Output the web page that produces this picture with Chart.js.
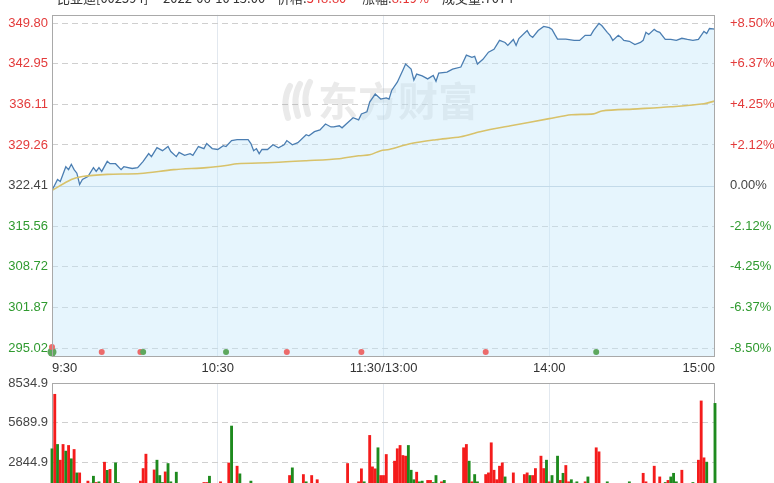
<!DOCTYPE html>
<html><head><meta charset="utf-8">
<script src="https://cdn.jsdelivr.net/npm/chart.js@4"></script>
<style>
html,body{margin:0;padding:0;background:#fff;overflow:hidden;width:774px;height:483px;}
#wrap{position:relative;width:774px;height:483px;overflow:hidden;}
#title{position:absolute;left:0;top:-10px;width:774px;height:16px;font:13px "Noto Sans CJK SC","Liberation Sans",sans-serif;color:#333;white-space:pre;line-height:16px;}
#title span{position:absolute;top:0;}
#title b{font-weight:normal;color:#e53333;}
#pc{position:absolute;left:0;top:0;}
#vc{position:absolute;left:0;top:370px;}
</style></head>
<body><div id="wrap">
<canvas id="pc" width="774" height="380"></canvas>
<canvas id="vc" width="774" height="150"></canvas>
<div id="title"><span style="left:57px">比亚迪[002594]</span><span style="left:163px">2022-06-10 15:00</span><span style="left:277px">价格:<b>348.80</b></span><span style="left:362px">涨幅:<b>8.19%</b></span><span style="left:442px">成交量:7074</span></div>
</div>
<script>
// ---------- data ----------
const basePrice = 322.41;
const priceTicks = [295.02, 301.87, 308.72, 315.56, 322.41, 329.26, 336.11, 342.95, 349.80];
const priceTickLabels = ['295.02','301.87','308.72','315.56','322.41','329.26','336.11','342.95','349.80'];
const pctTickLabels = ['-8.50%','-6.37%','-4.25%','-2.12%','0.00%','+2.12%','+4.25%','+6.37%','+8.50%'];
const timeTicks = [0, 60, 120, 180, 240];
const timeLabels = ['9:30', '10:30', '11:30/13:00', '14:00', '15:00'];

const priceMinutes = [
  0,2,3,5,6,7,8,9,10,11,
  13,15,16,17,18,20,21,23,25,26,
  29,31,33,35,36,38,40,42,43,45,
  46,48,50,51,53,55,56,58,60,62,
  63,65,67,71,72,73,74,75,76,78,
  80,82,84,85,87,89,92,93,95,97,
  99,101,102,104,105,107,109,111,112,114,
  115,117,119,121,122,123,125,127,128,130,
  131,132,134,136,138,139,140,143,145,148,
  150,152,153,154,156,158,160,162,164,165,
  167,168,169,172,173,174,176,178,180,181,
  182,183,186,189,191,193,195,196,198,199,
  201,202,203,205,206,207,209,211,213,214,
  215,216,218,219,220,222,224,226,228,230,
  232,234,236,237,238,240];
const priceValues = [
  321.6,323.45,323.1,325.6,325.1,326.0,325.1,324.5,322.6,323.45,
  323.95,325.45,324.8,325.45,324.8,326.5,326.1,326.1,325.1,325.6,
  325.3,325.45,326.5,327.8,327.3,328.8,328.3,329.0,328.15,327.3,
  328.0,327.5,327.8,327.5,329.0,328.65,329.5,328.65,328.5,329.15,
  329.0,330.0,330.15,330.15,329.5,328.3,328.65,327.8,328.5,328.5,
  329.3,328.8,329.3,330.0,329.3,329.65,331.0,330.8,331.5,331.8,
  332.8,332.3,332.3,332.5,332.15,333.0,333.85,333.5,334.5,334.85,
  336.5,337.85,337.0,337.2,337.0,338.5,339.85,341.85,342.9,342.05,
  340.2,341.2,340.9,340.4,341.0,340.0,341.4,341.55,342.05,342.4,
  344.4,344.05,344.2,342.9,343.7,344.9,345.4,346.9,346.55,346.05,
  347.05,346.05,347.2,348.55,347.75,347.4,348.55,349.25,349.05,348.75,
  347.9,347.1,347.1,346.9,346.9,347.75,347.75,348.55,349.75,349.4,
  348.25,347.75,346.9,347.75,347.4,346.9,346.75,346.2,346.55,346.9,
  348.25,347.9,348.75,348.4,348.25,347.05,347.05,346.9,347.25,347.05,
  346.9,347.05,348.4,348.05,348.9,348.8];

const avgMinutes = [0,7,11,20,32,44,56,63,67,80,92,104,111,115,119,122,130,139,148,155,166,180,188,196,199,212,224,236,240];
const avgValues = [321.6,323.45,323.95,324.3,324.45,325.1,325.45,325.8,326.1,326.3,326.6,326.95,327.45,327.6,328.3,328.5,329.5,330.15,330.65,331.5,332.5,333.7,334.35,334.5,335.0,335.35,335.7,336.2,336.7];

const markerMinutes = [0, 0, 18, 32, 33, 63, 85, 112, 157, 197];
const markerValues = [294.35, 295.2, 294.35, 294.35, 294.35, 294.35, 294.35, 294.35, 294.35, 294.35];
const markerKinds = ['g','r','r','r','g','g','r','r','r','g'];

const volumeTicks = [0, 2844.9, 5689.9, 8534.9];
const volumeTickLabels = ['0', '2844.9', '5689.9', '8534.9'];
const volumes = [
  3816,7726,4128,3000,4128,3650,4056,3100,3768,2088,
  2088,1200,1300,1500,1350,1850,1400,1450,1100,2856,
  2270,2340,1000,2808,1400,900,700,800,600,900,
  700,1000,1500,2400,3432,900,1000,2300,3000,1900,
  1400,2160,2760,1450,900,2140,800,700,900,1300,
  700,900,600,800,700,1400,1400,1850,800,900,
  700,1450,900,1000,2800,5448,1100,2570,2020,900,
  800,1000,1500,800,700,900,600,800,900,700,
  800,600,900,700,800,1100,1900,2450,900,800,
  1000,1970,1450,800,1900,900,1600,800,700,900,
  600,800,1000,700,900,800,1000,2760,900,800,
  700,1450,2380,1450,1200,4776,2520,2380,3890,1900,
  1900,3408,1200,1100,2930,3820,4056,3336,3290,4056,
  2280,1600,2140,1450,1500,900,1550,1550,1400,1900,
  900,1450,1550,800,700,900,1300,800,900,3890,
  4128,2930,1450,1970,1450,900,800,1970,2090,4248,
  2280,1600,2570,2808,1800,900,800,2090,700,900,
  800,1970,2090,1900,1900,2400,1100,3290,2400,3000,
  1450,1900,900,3290,1550,2060,2620,1450,1600,1350,
  1450,800,900,1450,1800,900,700,3890,3600,800,
  700,1450,800,700,900,600,800,700,900,1450,
  800,700,900,800,2060,1450,900,800,2570,900,
  1800,900,1400,1550,1800,2060,1450,900,2280,800,
  700,900,1400,900,3000,7250,3170,2860,1200,1000,7074];
const volumeDirs = [
  'grgrrgrgrg','rrrrggrgrr','grgggrgrgr','grrrrgrrgg','grggrgrgrr',
  'grgrgrrgrg','rrgrrggrgr','grggrgrgrg','rgrgrgrgrg','rrgrrgrgrg',
  'rgrgrgrrgr','grrgrrrrgr','rrgrrrrrrg','ggrggrrrgg','rrgrgrrgrr',
  'rgrggrgrrr','rrrrgrgrgr','grrgrrgrrg','rgrgrgrrgg','grgrgrgrrg',
  'rgrgrgrgrg','rgrgrrgrrg','rggrgggrrg','rggrrrrggrg'].join('');

// ---------- styling ----------
Chart.defaults.font.family = '"Liberation Sans", Arial, sans-serif';
Chart.defaults.font.size = 13;
Chart.defaults.animation = false;

const RED_TXT = '#e33b3b', GREEN_TXT = '#2f9a2f', GRAY_TXT = '#444';
function priceColor(v){ if (Math.abs(v - basePrice) < 0.005) return GRAY_TXT; return v > basePrice ? RED_TXT : GREEN_TXT; }

function drawBox(chart) {
  const {ctx, chartArea: a} = chart;
  ctx.save(); ctx.strokeStyle = '#a9a9a9'; ctx.lineWidth = 1;
  ctx.strokeRect(Math.round(a.left) + 0.5, Math.round(a.top) + 0.5, Math.round(a.right - a.left) - 1, Math.round(a.bottom - a.top));
  ctx.restore();
}

const boxPlugin = {
  id: 'box',
  beforeDatasetsDraw(chart, args, opts) {
    const {ctx, chartArea: a} = chart;
    if (opts.boxFirst) drawBox(chart);
    if (opts.zeroLine) {
      const y = Math.round(chart.scales.y.getPixelForValue(basePrice)) + 0.5;
      ctx.save(); ctx.strokeStyle = '#c3d0dd'; ctx.lineWidth = 1;
      ctx.beginPath(); ctx.moveTo(a.left, y); ctx.lineTo(a.right, y); ctx.stroke(); ctx.restore();
    }
    if (opts.watermark) {
      ctx.save();
      ctx.fillStyle = 'rgba(150,150,150,0.2)';
      ctx.font = 'bold 40px "Noto Sans CJK SC"';
      ctx.textBaseline = 'middle';
      ctx.fillText('东方财富', 318, 101);
      ctx.strokeStyle = 'rgba(150,150,150,0.2)';
      ctx.lineWidth = 6; ctx.lineCap = 'round';
      [[0,0],[10,-2],[20,-4]].forEach(([dx,dy]) => {
        ctx.beginPath(); ctx.moveTo(290+dx, 86+dy); ctx.quadraticCurveTo(282+dx, 100+dy, 288+dx, 118+dy); ctx.stroke();
      });
      ctx.restore();
    }
  },
  afterDraw(chart, args, opts) {
    if (!opts.boxFirst) drawBox(chart);
  }
};

// ---------- price chart ----------
new Chart(document.getElementById('pc'), {
  type: 'line',
  data: {
    datasets: [
      {
        type: 'scatter', label: '事件',
        data: markerMinutes.map((m, i) => ({x: m, y: markerValues[i]})),
        pointBackgroundColor: markerKinds.map(k => k === 'r' ? '#ec6b6b' : '#5ea85e'),
        pointBorderWidth: 0,
        pointRadius: markerKinds.map((k, i) => i === 0 ? 4.5 : 3),
        clip: false, order: 0
      },
      {
        label: '均价', data: avgMinutes.map((m, i) => ({x: m, y: avgValues[i]})),
        borderColor: '#d8c26a', borderWidth: 1.6, pointRadius: 0, fill: false, tension: 0.3, order: 1
      },
      {
        label: '价格', data: priceMinutes.map((m, i) => ({x: m, y: priceValues[i]})),
        borderColor: '#4b7eb2', borderWidth: 1.3, pointRadius: 0, tension: 0,
        fill: 'start', backgroundColor: 'rgba(196,230,250,0.42)', order: 2
      }
    ]
  },
  options: {
    responsive: false,
    layout: {padding: {top: 12, left: 0, right: 0, bottom: 0}},
    plugins: {legend: {display: false}, tooltip: {enabled: false}, box: {zeroLine: true, watermark: true}},
    scales: {
      x: {
        type: 'linear', min: 0, max: 240,
        afterBuildTicks: s => { s.ticks = timeTicks.map(v => ({value: v})); },
        afterFit: s => { s.height = 24; },
        ticks: {autoSkip: false, maxRotation: 0, align: 'inner', padding: 5, color: '#333',
          callback: (v, i) => timeLabels[i]},
        grid: {drawTicks: false, color: c => (c.tick && (c.tick.value === 0 || c.tick.value === 240)) ? 'rgba(0,0,0,0)' : '#e2e8ef'},
        border: {display: false}
      },
      y: {
        position: 'left', min: 293.68, max: 351.21,
        afterBuildTicks: s => { s.ticks = priceTicks.map(v => ({value: v})); },
        afterFit: s => { s.width = 52; },
        ticks: {padding: 4, color: c => priceColor(c.tick.value), callback: (v, i) => priceTickLabels[i]},
        grid: {drawTicks: false, color: c => (c.tick && Math.abs(c.tick.value - basePrice) < 0.005) ? 'rgba(0,0,0,0)' : '#cfcfcf'},
        border: {display: false, dash: [6, 4]}
      },
      y2: {
        position: 'right', min: 293.68, max: 351.21,
        afterBuildTicks: s => { s.ticks = priceTicks.map(v => ({value: v})); },
        afterFit: s => { s.width = 59; },
        ticks: {padding: 7, color: c => priceColor(c.tick.value), callback: (v, i) => pctTickLabels[i]},
        grid: {display: false},
        border: {display: false}
      }
    }
  },
  plugins: [boxPlugin]
});

// ---------- volume chart ----------
new Chart(document.getElementById('vc'), {
  type: 'bar',
  data: {
    datasets: [{
      label: '成交量',
      data: volumes.map((v, i) => ({x: i, y: v})),
      backgroundColor: volumes.map((v, i) => volumeDirs[i] === 'r' ? '#f41c1c' : '#1e8a1e'),
      barThickness: 2.2, borderWidth: 0, clip: false
    }]
  },
  options: {
    responsive: false,
    layout: {padding: {top: 13, left: 0, right: 59, bottom: 18}},
    plugins: {legend: {display: false}, tooltip: {enabled: false}, box: {boxFirst: true}},
    scales: {
      x: {
        type: 'linear', min: 0, max: 240, offset: false,
        afterBuildTicks: s => { s.ticks = timeTicks.map(v => ({value: v})); },
        afterFit: s => { s.height = 0; },
        ticks: {display: false},
        grid: {offset: false, drawTicks: false, color: c => (c.tick && (c.tick.value === 0 || c.tick.value === 240)) ? 'rgba(0,0,0,0)' : '#e2e8ef'},
        border: {display: false}
      },
      y: {
        min: 0, max: 8534.9,
        afterBuildTicks: s => { s.ticks = volumeTicks.map(v => ({value: v})); },
        afterFit: s => { s.width = 52; },
        ticks: {padding: 4, color: '#444', callback: (v, i) => volumeTickLabels[i]},
        grid: {drawTicks: false, color: c => (c.tick && (c.tick.value === 0 || c.tick.value === 8534.9)) ? 'rgba(0,0,0,0)' : '#cfcfcf'},
        border: {display: false, dash: [6, 4]}
      }
    }
  },
  plugins: [boxPlugin]
});
</script>
</body></html>
